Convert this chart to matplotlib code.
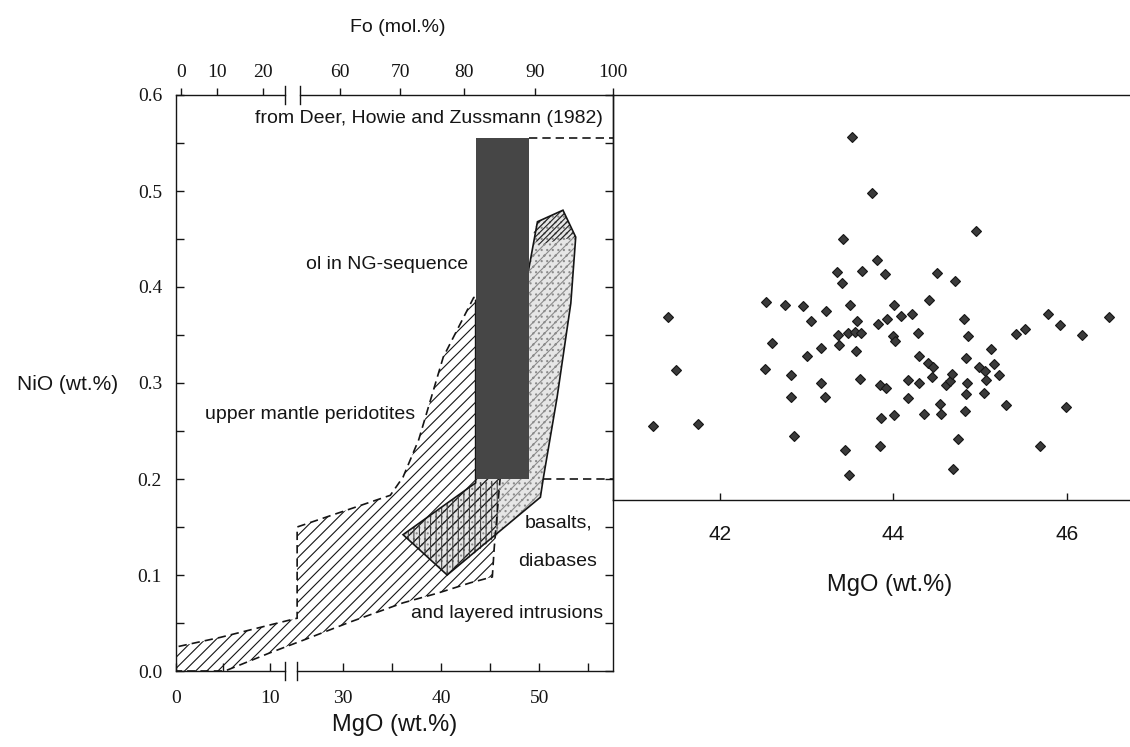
import numpy as np
import matplotlib.pyplot as plt
from matplotlib.patches import Polygon

plt.rcParams['font.family'] = ['Liberation Sans', 'DejaVu Sans']
plt.rcParams['hatch.linewidth'] = 0.8

# ---- data ----
# MgO axis of the left panel has a break between ~12 and ~25 wt.%
brk_mgo = [-10, 0, 10, 11.6, 25.3, 30, 57.5, 70]
brk_pos = [-94, 0, 94, 109, 121, 167, 436.5, 559]

mgo_major = [0, 10, 30, 40, 50]
mgo_minor = [5, 35, 45, 55]

fo_ticks = [0, 10, 20, 60, 70, 80, 90, 100]
fo_mgo = [0.5, 4.4, 9.2, 29.7, 35.8, 42.3, 49.6, 57.5]

# upper mantle peridotites field
mantle_mgo = [0, 0, 4.7, 10.0, 25.3, 25.3, 34.8, 36.1, 37.7, 40.2, 43.3, 46.0,
              46.0, 45.4, 45.2, 43.0, 39.6, 36.1, 30.7, 25.9, 10.0, 5.2]
mantle_nio = [0.0, 0.025, 0.035, 0.048, 0.055, 0.150, 0.183, 0.202, 0.241, 0.327,
              0.389, 0.389, 0.201, 0.129, 0.098, 0.092, 0.081, 0.071, 0.051,
              0.032, 0.019, 0.0]

# basalts, diabases and layered intrusions field
basalt_mgo = [36.1, 43.5, 43.5, 48.9, 49.8, 52.4, 53.7, 53.2, 51.8, 50.4, 50.1, 40.6]
basalt_nio = [0.142, 0.196, 0.386, 0.418, 0.468, 0.480, 0.452, 0.383, 0.285,
              0.201, 0.181, 0.100]

overlap_mgo = [36.1, 43.5, 46.0, 45.7, 40.6]
overlap_nio = [0.142, 0.196, 0.199, 0.141, 0.100]

top_mgo = [49.4, 49.8, 52.4, 53.7, 49.8]
top_nio = [0.457, 0.468, 0.480, 0.452, 0.444]

# olivine of the NG-sequence
bar_mgo = [43.5, 48.9]
bar_nio = [0.20, 0.555]

ng_mgo = [43.52, 43.75, 44.95, 43.42, 43.81, 43.35, 43.64, 43.90, 44.50, 43.41,
          44.71, 42.53, 42.75, 42.96, 43.22, 43.50, 44.01, 44.41, 41.40, 43.05,
          43.58, 43.93, 44.09, 44.21, 43.82, 44.81, 45.78, 45.92, 46.48, 43.36,
          43.48, 43.56, 43.63, 44.00, 44.02, 44.28, 44.86, 45.41, 45.52, 46.17,
          42.60, 43.16, 43.37, 43.57, 43.00, 44.29, 44.40, 44.46, 44.84, 45.12,
          44.99, 45.05, 45.16, 45.22, 42.52, 41.50, 42.82, 43.17, 43.62,
          43.84, 43.91, 44.17, 44.30, 44.44, 44.61, 44.65, 44.67, 44.85, 45.07,
          44.84, 45.04, 44.17, 44.54, 45.30, 45.99, 42.82, 43.21, 44.35, 44.55,
          44.01, 43.86, 44.82, 41.23, 41.75, 42.85, 43.85, 44.74, 45.69, 43.44,
          43.49, 44.69]
ng_nio = [0.556, 0.498, 0.458, 0.450, 0.428, 0.416, 0.417, 0.414, 0.415, 0.404,
          0.406, 0.384, 0.381, 0.380, 0.375, 0.381, 0.381, 0.386, 0.369, 0.365,
          0.364, 0.367, 0.370, 0.372, 0.361, 0.367, 0.372, 0.360, 0.369, 0.350,
          0.352, 0.353, 0.352, 0.349, 0.344, 0.352, 0.349, 0.351, 0.356, 0.350,
          0.342, 0.336, 0.339, 0.333, 0.328, 0.328, 0.321, 0.317, 0.326, 0.335,
          0.317, 0.312, 0.320, 0.308, 0.315, 0.313, 0.308, 0.300, 0.304,
          0.298, 0.295, 0.303, 0.300, 0.306, 0.298, 0.302, 0.309, 0.300, 0.303,
          0.288, 0.290, 0.284, 0.278, 0.277, 0.275, 0.285, 0.285, 0.268, 0.268,
          0.267, 0.263, 0.271, 0.255, 0.257, 0.245, 0.234, 0.242, 0.234, 0.230,
          0.204, 0.210]


def fwd(v):
    return np.interp(v, brk_mgo, brk_pos)


def inv(u):
    return np.interp(u, brk_pos, brk_mgo)


W, H = 1130, 747
fig = plt.figure(figsize=(W / 100, H / 100), dpi=100)
ax = fig.add_axes([176 / W, 76 / H, 437 / W, 576 / H])
ax2 = fig.add_axes([613 / W, 247 / H, 527 / W, 405 / H])

ink = '#151515'
serif = ['Liberation Serif', 'DejaVu Serif']

# ---- left panel ----
ax.set_xscale('function', functions=(fwd, inv))
ax.set_xlim(0, 57.5)
ax.set_ylim(0, 0.6)

mantle = list(zip(mantle_mgo, mantle_nio))
basalt = list(zip(basalt_mgo, basalt_nio))
ax.add_patch(Polygon(basalt, closed=True, facecolor='#e6e6e6', edgecolor='#8c8c8c',
                     hatch='///...', lw=0, zorder=1))
ax.add_patch(Polygon(mantle, closed=True, facecolor='none', edgecolor=ink,
                     hatch='///', lw=0, zorder=2))
ax.add_patch(Polygon(list(zip(overlap_mgo, overlap_nio)), closed=True, facecolor='none',
                     edgecolor='#444444', hatch='|||', lw=0, zorder=2))
ax.add_patch(Polygon(list(zip(top_mgo, top_nio)), closed=True, facecolor='none',
                     edgecolor='#222222', hatch='//////', lw=0, zorder=2))
ax.add_patch(Polygon(mantle, closed=True, fill=False, edgecolor=ink, lw=1.2,
                     linestyle=(0, (5, 3)), zorder=3))
ax.add_patch(Polygon(basalt, closed=True, fill=False, edgecolor=ink, lw=1.2, zorder=3))
ax.fill_between(bar_mgo, bar_nio[0], bar_nio[1], color='#464646', lw=0, zorder=4)
ax.plot([bar_mgo[1], 57.5], [bar_nio[1], bar_nio[1]], color=ink, lw=1.2,
        linestyle=(0, (5, 3)), zorder=4)
ax.plot([basalt_mgo[9], 57.5], [bar_nio[0], bar_nio[0]], color=ink, lw=1.2,
        linestyle=(0, (5, 3)), zorder=4)

# broken top and bottom axis lines
ax.spines['top'].set_visible(False)
ax.spines['bottom'].set_visible(False)
for s in ['left', 'right']:
    ax.spines[s].set_linewidth(1.0)
    ax.spines[s].set_color(ink)
xt = ax.get_xaxis_transform()
for yy, (b0, b1) in [(0, (11.6, 25.3)), (1, (11.9, 25.6))]:
    ax.plot([0, b0], [yy, yy], color=ink, lw=1.0, transform=xt, clip_on=False)
    ax.plot([b1, 57.5], [yy, yy], color=ink, lw=1.0, transform=xt, clip_on=False)
    for b in (b0, b1):
        ax.plot([b, b], [yy - 0.015, yy + 0.015], color=ink, lw=1.0,
                transform=xt, clip_on=False)

ax.set_xticks(mgo_major, labels=[str(v) for v in mgo_major])
ax.set_xticks(mgo_minor, minor=True)
ax.set_yticks(np.arange(0, 0.61, 0.1), labels=['%.1f' % v for v in np.arange(0, 0.61, 0.1)])
ax.set_yticks(np.arange(0.05, 0.6, 0.1), minor=True)
ax.tick_params(which='both', direction='in', length=6, width=1.0, color=ink,
               top=True, right=True)
ax.tick_params(axis='x', which='major', pad=14)
ax.tick_params(axis='y', which='major', pad=10)
for lab in ax.get_xticklabels() + ax.get_yticklabels():
    lab.set_family(serif)
    lab.set_fontsize(14)
    lab.set_color(ink)

# Fo scale on top
axt = ax.twiny()
axt.set_xscale('function', functions=(fwd, inv))
axt.set_xlim(0, 57.5)
axt.set_xticks(fo_mgo, labels=[str(v) for v in fo_ticks])
axt.tick_params(axis='x', direction='out', length=5, width=1.0, color=ink, pad=5)
for s in axt.spines.values():
    s.set_visible(False)
for lab in axt.get_xticklabels():
    lab.set_family(serif)
    lab.set_fontsize(14)
    lab.set_color(ink)

ax.text(56.5, 0.576, 'from Deer, Howie and Zussmann (1982)', ha='right', va='center',
        fontsize=14, color=ink, zorder=5)
ax.text(42.7, 0.423, 'ol in NG-sequence', ha='right', va='center', fontsize=14,
        color=ink, zorder=5)
ax.text(3.1, 0.267, 'upper mantle peridotites', ha='left', va='center', fontsize=14,
        color=ink, zorder=5)
ax.text(51.9, 0.154, 'basalts,', ha='center', va='center', fontsize=14, color=ink, zorder=5)
ax.text(51.9, 0.114, 'diabases', ha='center', va='center', fontsize=14, color=ink, zorder=5)
ax.text(46.7, 0.060, 'and layered intrusions', ha='center', va='center', fontsize=14,
        color=ink, zorder=5)

# ---- right panel ----
ax2.plot(ng_mgo, ng_nio, 'D', ms=5.2, mfc='#3a3a3a', mec=ink, mew=0.8, clip_on=False)
ax2.set_xlim(40.77, 46.84)
ax2.set_ylim(0.178, 0.6)
ax2.set_xticks([42, 44, 46])
ax2.set_yticks([])
ax2.spines['right'].set_visible(False)
for s in ['left', 'top', 'bottom']:
    ax2.spines[s].set_linewidth(1.0)
    ax2.spines[s].set_color(ink)
ax2.tick_params(axis='x', direction='in', length=5, width=1.0, color=ink, pad=18,
                labelsize=15, labelcolor=ink)
ax2.patch.set_alpha(0)

# axis titles
fig.text(398 / W, 1 - 27 / H, 'Fo (mol.%)', ha='center', va='center', fontsize=14, color=ink)
fig.text(68 / W, 1 - 385 / H, 'NiO (wt.%)', ha='center', va='center', fontsize=15, color=ink)
fig.text(395 / W, 1 - 725 / H, 'MgO (wt.%)', ha='center', va='center', fontsize=17, color=ink)
fig.text(890 / W, 1 - 585 / H, 'MgO (wt.%)', ha='center', va='center', fontsize=17, color=ink)

fig.savefig('out.png', dpi=100)
